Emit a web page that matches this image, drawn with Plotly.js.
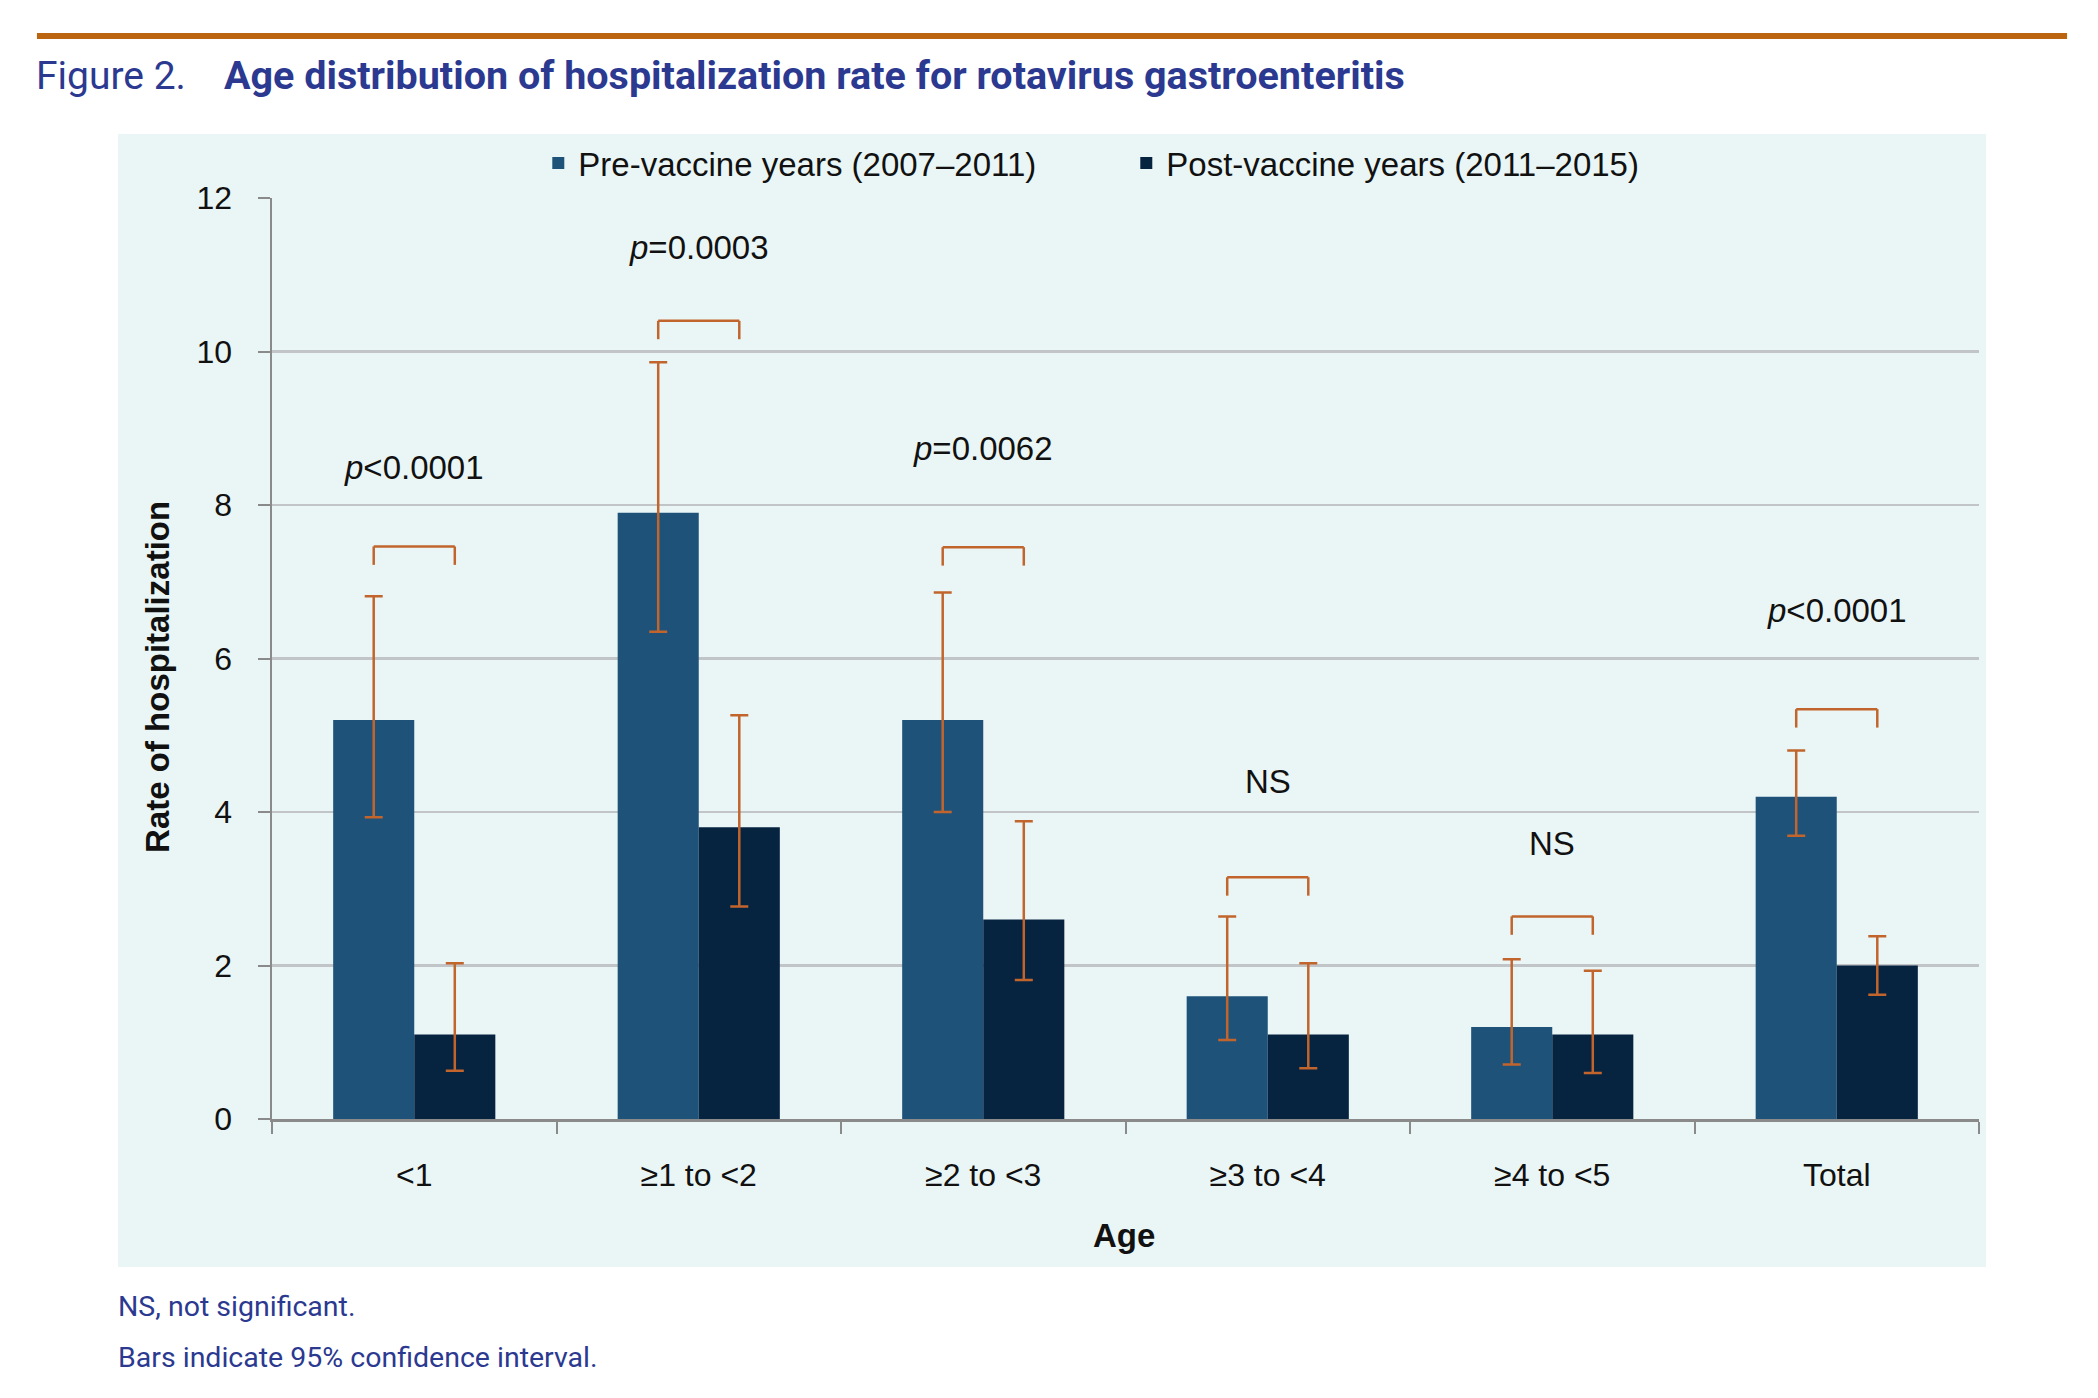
<!DOCTYPE html>
<html>
<head>
<meta charset="utf-8">
<script src="https://cdn.plot.ly/plotly-3.0.1.min.js"></script>
<style>
  html, body { margin: 0; padding: 0; background: #ffffff; }
  #chart { width: 2098px; height: 1398px; }
</style>
</head>
<body>
<div id="chart"></div>
<script>
// ---- data ----
const categories = ['<1', '≥1 to <2', '≥2 to <3', '≥3 to <4', '≥4 to <5', 'Total'];
const seriesNames = ['Pre-vaccine years (2007–2011)', 'Post-vaccine years (2011–2015)'];
const preValues  = [5.2, 7.9, 5.2, 1.6, 1.2, 4.2];
const preLow     = [3.93, 6.35, 4.00, 1.03, 0.71, 3.69];
const preHigh    = [6.81, 9.86, 6.86, 2.64, 2.08, 4.80];
const postValues = [1.1, 3.8, 2.6, 1.1, 1.1, 2.0];
const postLow    = [0.63, 2.77, 1.81, 0.66, 0.60, 1.62];
const postHigh   = [2.03, 5.26, 3.88, 2.03, 1.93, 2.38];
const bracketTop = [7.46, 10.40, 7.45, 3.15, 2.64, 5.34];
const pLabels    = ['<i>p</i>&lt;0.0001', '<i>p</i>=0.0003', '<i>p</i>=0.0062', 'NS', 'NS', '<i>p</i>&lt;0.0001'];
const pLabelY    = [8.49, 11.36, 8.74, 4.40, 3.59, 6.63];
const yTicks     = [0, 2, 4, 6, 8, 10, 12];

// ---- styling ----
const BG = '#eaf6f6';
const PRE = '#1f5279';
const POST = '#062340';
const ORANGE = '#c1652d';
const NAVY = '#2b3990';
const GRID = '#c2c5c7';
const AXIS = '#8a8a8a';
const TXT = '#111111';
const SANS = 'Liberation Sans, Arial, sans-serif';
const TITLEF = 'Roboto, Liberation Sans, sans-serif';
const BARGAP = 0.43;
const legDrop = 0.24;

const errStyle = { color: ORANGE, thickness: 2.5, width: 9 };

const tracePre = {
  type: 'bar', name: seriesNames[0], x: categories, y: preValues,
  marker: { color: PRE, line: { width: 0 } },
  error_y: Object.assign({ type: 'data', symmetric: false,
    array: preHigh.map((h, i) => h - preValues[i]),
    arrayminus: preValues.map((v, i) => v - preLow[i]) }, errStyle),
  hoverinfo: 'skip'
};
const tracePost = {
  type: 'bar', name: seriesNames[1], x: categories, y: postValues,
  marker: { color: POST, line: { width: 0 } },
  error_y: Object.assign({ type: 'data', symmetric: false,
    array: postHigh.map((h, i) => h - postValues[i]),
    arrayminus: postValues.map((v, i) => v - postLow[i]) }, errStyle),
  hoverinfo: 'skip'
};

// brackets between the two bar centres of each group
const half = (1 - BARGAP) / 4;
const shapes = [
  // panel background
  { type: 'rect', xref: 'paper', yref: 'paper', x0: -0.0902, x1: 1.0041, y0: -0.1607, y1: 1.0695,
    fillcolor: BG, line: { width: 0 }, layer: 'below' },
  // top rule
  { type: 'line', xref: 'paper', yref: 'paper', x0: -0.1377, x1: 1.0516, y0: 1.1759, y1: 1.1759,
    line: { color: '#bb6511', width: 6 } }
];
categories.forEach((c, i) => {
  const xa = i - half, xb = i + half, yt = bracketTop[i], yb = bracketTop[i] - legDrop;
  const ln = { color: ORANGE, width: 2.5 };
  shapes.push({ type: 'line', xref: 'x', yref: 'y', x0: xa, x1: xb, y0: yt, y1: yt, line: ln });
  shapes.push({ type: 'line', xref: 'x', yref: 'y', x0: xa, x1: xa, y0: yt, y1: yb, line: ln });
  shapes.push({ type: 'line', xref: 'x', yref: 'y', x0: xb, x1: xb, y0: yt, y1: yb, line: ln });
});

const annotations = categories.map((c, i) => ({
  xref: 'x', yref: 'y', x: c, y: pLabelY[i], text: pLabels[i], showarrow: false,
  xanchor: 'center', yanchor: 'middle', font: { family: SANS, size: 33, color: TXT }
}));
annotations.push(
  { xref: 'paper', yref: 'paper', x: -0.1395, y: 1.1325, xanchor: 'left', yanchor: 'middle',
    text: 'Figure 2.', showarrow: false, font: { family: TITLEF, size: 39, color: NAVY } },
  { xref: 'paper', yref: 'paper', x: -0.0293, y: 1.1325, xanchor: 'left', yanchor: 'middle',
    text: '<b>Age distribution of hospitalization rate for rotavirus gastroenteritis</b>', showarrow: false,
    font: { family: TITLEF, size: 39.5, color: NAVY } },
  { xref: 'paper', yref: 'paper', x: -0.0668, y: 0.48, xanchor: 'center', yanchor: 'middle',
    text: '<b>Rate of hospitalization</b>', textangle: -90, showarrow: false,
    font: { family: SANS, size: 33, color: TXT } },
  { xref: 'paper', yref: 'paper', x: 0.499, y: -0.127, xanchor: 'center', yanchor: 'middle',
    text: '<b>Age</b>', showarrow: false, font: { family: SANS, size: 33, color: TXT } },
  { xref: 'paper', yref: 'paper', x: -0.0915, y: -0.2041, xanchor: 'left', yanchor: 'middle',
    text: 'NS, not significant.', showarrow: false, font: { family: TITLEF, size: 28.5, color: NAVY } },
  { xref: 'paper', yref: 'paper', x: -0.0915, y: -0.2595, xanchor: 'left', yanchor: 'middle',
    text: 'Bars indicate 95% confidence interval.', showarrow: false, font: { family: TITLEF, size: 28.5, color: NAVY } }
);

const layout = {
  width: 2098, height: 1398,
  margin: { l: 272, r: 119, t: 198, b: 279, pad: 0 },
  paper_bgcolor: '#ffffff', plot_bgcolor: 'rgba(0,0,0,0)',
  font: { family: SANS, size: 32, color: TXT },
  barmode: 'group', bargap: BARGAP, bargroupgap: 0,
  showlegend: true,
  legend: { orientation: 'h', x: 0.156, y: 1.038, xanchor: 'left', yanchor: 'middle',
    bgcolor: 'rgba(0,0,0,0)', font: { family: SANS, size: 33, color: TXT },
    entrywidth: 543, entrywidthmode: 'pixels', traceorder: 'normal' },
  xaxis: {
    type: 'category', categoryorder: 'array', categoryarray: categories,
    tickson: 'boundaries', ticks: 'outside', ticklen: 12, tickwidth: 2, tickcolor: AXIS,
    showline: true, linecolor: AXIS, linewidth: 3, showgrid: false, zeroline: false,
    ticklabelstandoff: 26, tickfont: { family: SANS, size: 32, color: TXT }
  },
  yaxis: {
    range: [0, 12], tickvals: yTicks, ticktext: yTicks.map(String),
    ticks: 'outside', ticklen: 12, tickwidth: 2, tickcolor: AXIS,
    showline: true, linecolor: AXIS, linewidth: 2.5,
    showgrid: true, gridcolor: GRID, gridwidth: 2.8, zeroline: false,
    ticklabelstandoff: 19, tickfont: { family: SANS, size: 32, color: TXT }
  },
  shapes: shapes,
  annotations: annotations,
  hovermode: false
};

Plotly.newPlot('chart', [tracePre, tracePost], layout, { displayModeBar: false, staticPlot: true });
</script>
</body>
</html>
